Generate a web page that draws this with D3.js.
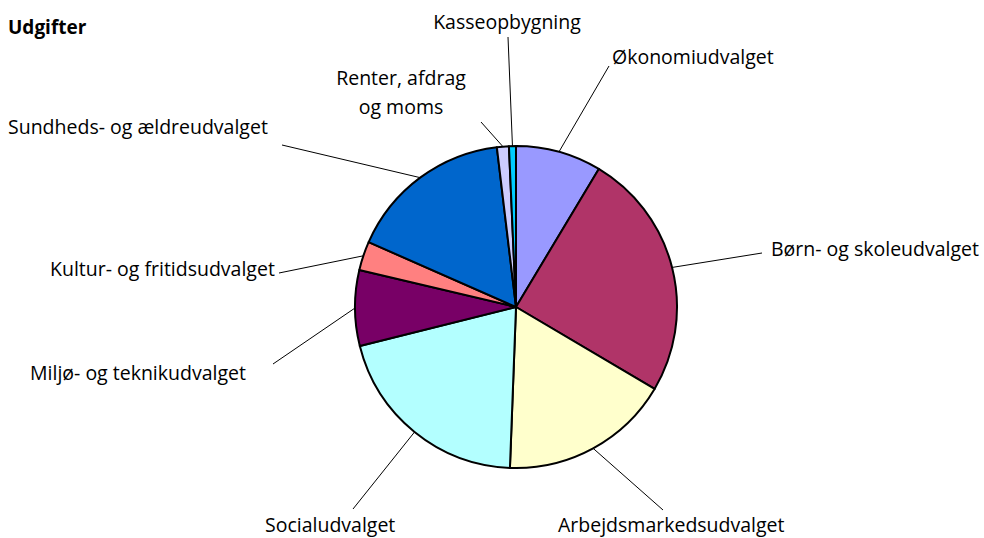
<!DOCTYPE html>
<html>
    <head>
        <title>Udgifter | D3</title>
        <script src="https://d3js.org/d3.v7.min.js" charset="utf-8"></script>
        <style>
            body {
                margin: 0;
                background: white;
                font-family: "Open Sans", "Liberation Sans", sans-serif;
            }
            .lbl {
                font-size: 19.5px;
                fill: #000;
            }
        </style>
    </head>
    <body>
        <script>
            // data (percent of total)
            var categories = ["Økonomiudvalget", "Børn- og skoleudvalget", "Arbejdsmarkedsudvalget",
                "Socialudvalget", "Miljø- og teknikudvalget", "Kultur- og fritidsudvalget",
                "Sundheds- og ældreudvalget", "Renter, afdrag og moms", "Kasseopbygning"];
            var values = [8.6, 24.9, 17.1, 20.5, 7.6, 2.9, 16.5, 1.2, 0.7];
            var colors = ["#9999FF", "#B03468", "#FFFFCC", "#B3FFFF", "#780066",
                "#FF8080", "#0066CC", "#CCCCFF", "#00CCFF"];

            // label placement: text lines, x, first baseline, anchor, leader end
            var labelLayout = [
                {lines: ["Økonomiudvalget"], x: 612, y: 64, anchor: "start", lx: 609, ly: 66},
                {lines: ["Børn- og skoleudvalget"], x: 771, y: 256, anchor: "start", lx: 762, ly: 253},
                {lines: ["Arbejdsmarkedsudvalget"], x: 558, y: 532, anchor: "start", lx: 663, ly: 510},
                {lines: ["Socialudvalget"], x: 265, y: 532, anchor: "start", lx: 353, ly: 509},
                {lines: ["Miljø- og teknikudvalget"], x: 30, y: 380, anchor: "start", lx: 273, ly: 364},
                {lines: ["Kultur- og fritidsudvalget"], x: 50, y: 276, anchor: "start", lx: 279, ly: 273},
                {lines: ["Sundheds- og ældreudvalget"], x: 8, y: 134, anchor: "start", lx: 282, ly: 145},
                {lines: ["Renter, afdrag", "og moms"], x: 401, y: 85, anchor: "middle", lx: 481, ly: 122},
                {lines: ["Kasseopbygning"], x: 507, y: 29, anchor: "middle", lx: 508, ly: 37}
            ];

            var width = 984;
            var height = 538;
            var cx = 516, cy = 307, radius = 161;

            var svg = d3.select("body")
                .append("svg")
                .attr("width", width)
                .attr("height", height);

            svg.append("text")
                .attr("x", 8)
                .attr("y", 34)
                .attr("font-size", "19px")
                .attr("font-weight", "bold")
                .text("Udgifter");

            var pie = d3.pie().sort(null).value(function(d) { return d; });
            var arcs = pie(values);

            var arc = d3.arc().innerRadius(0).outerRadius(radius);
            var edge = d3.arc().innerRadius(radius).outerRadius(radius);

            var g = svg.append("g").attr("transform", "translate(" + cx + "," + cy + ")");

            g.selectAll("path")
                .data(arcs)
                .enter()
                .append("path")
                .attr("fill", function(d, i) { return colors[i]; })
                .attr("stroke", "#000")
                .attr("stroke-width", 2)
                .attr("stroke-linejoin", "round")
                .attr("d", arc);

            // leader lines from slice edge to label
            svg.selectAll("line.leader")
                .data(arcs)
                .enter()
                .append("line")
                .attr("class", "leader")
                .attr("x1", function(d) { return cx + edge.centroid(d)[0]; })
                .attr("y1", function(d) { return cy + edge.centroid(d)[1]; })
                .attr("x2", function(d, i) { return labelLayout[i].lx; })
                .attr("y2", function(d, i) { return labelLayout[i].ly; })
                .attr("stroke", "#000")
                .attr("stroke-width", 1);

            var labels = svg.selectAll("text.lbl")
                .data(labelLayout)
                .enter()
                .append("text")
                .attr("class", "lbl")
                .attr("text-anchor", function(d) { return d.anchor; });

            labels.selectAll("tspan")
                .data(function(d) { return d.lines.map(function(t) { return {t: t, d: d}; }); })
                .enter()
                .append("tspan")
                .attr("x", function(o) { return o.d.x; })
                .attr("y", function(o, j) { return o.d.y + j * 29; })
                .text(function(o) { return o.t; });
        </script>
    </body>
</html>
